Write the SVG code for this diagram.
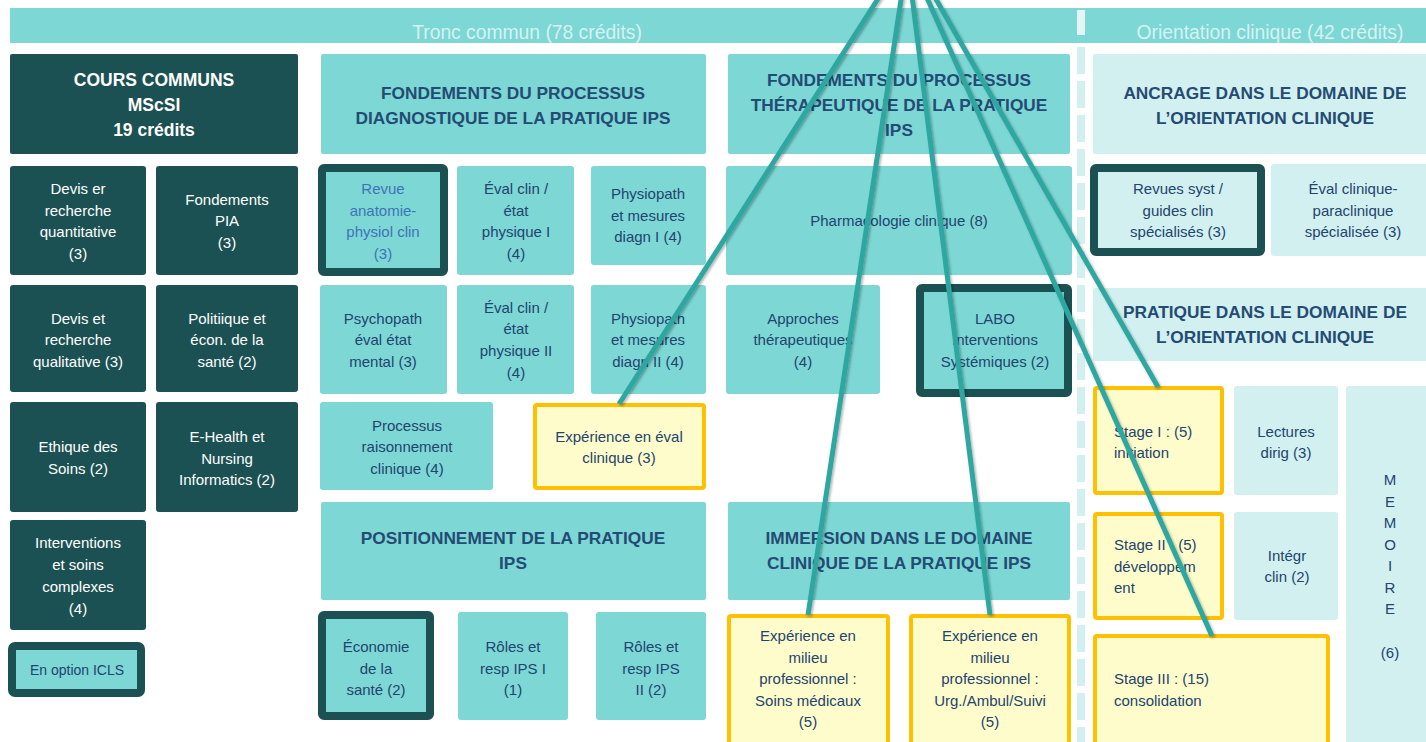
<svg xmlns="http://www.w3.org/2000/svg" width="1426" height="742" viewBox="0 0 1426 742">
<defs>
<style>
.dk{fill:#1b5153}
.tl{fill:#7dd7d5}
.lc{fill:#d3f0f0}
.yl{fill:#fffccb;stroke:#ffc000;stroke-width:4}
.bt{fill:#7dd7d5;stroke:#1b5153;stroke-width:8}
.bl{fill:#d3f0f0;stroke:#1b5153;stroke-width:8}
text{font-family:"Liberation Sans",Arial,sans-serif;font-size:15px;text-anchor:middle;fill:#22446e}
.w{fill:#ffffff}
.h{font-weight:bold;font-size:17.3px;fill:#234b73}
.hw{font-weight:bold;font-size:17.5px;fill:#ffffff}
.bar{font-size:19.3px;fill:#d6f2f1}
.bl2{fill:#3f73b8}
.l{text-anchor:start}
.con{stroke:#2ea7a1;stroke-width:5;fill:none;stroke-linecap:butt}
</style>
<filter id="sh" x="-20%" y="-20%" width="140%" height="140%"><feDropShadow dx="1.5" dy="1.5" stdDeviation="1" flood-color="#000" flood-opacity="0.3"/></filter>
</defs>
<rect width="1426" height="742" fill="#ffffff"/>

<g id="header">
<rect x="10" y="8" width="1416" height="35" class="tl"/>
<text x="527" y="39" class="bar">Tronc commun (78 crédits)</text>
<text x="1270" y="39" class="bar">Orientation clinique (42 crédits)</text>
</g>

<g id="separator">
<rect x="1077" y="10" width="8" height="25" fill="#e3f6f6"/>
<line x1="1081" y1="47" x2="1081" y2="742" stroke="#d3f0f0" stroke-width="8" stroke-dasharray="27 7"/>
</g>

<g id="cours-communs"><rect x="10" y="54" width="288" height="100" rx="2" class="dk"/>
<text class="hw" x="154" y="86">COURS COMMUNS</text><text class="hw" x="154" y="111">MScSI</text><text class="hw" x="154" y="136">19 crédits</text></g>
<g id="devis-quanti"><rect x="10" y="166" width="136" height="109" rx="3" class="dk"/>
<text class="w" x="78" y="194">Devis er</text><text class="w" x="78" y="216">recherche</text><text class="w" x="78" y="237">quantitative</text><text class="w" x="78" y="259">(3)</text></g>
<g id="fondements-pia"><rect x="156" y="166" width="142" height="109" rx="3" class="dk"/>
<text class="w" x="227" y="205">Fondements</text><text class="w" x="227" y="226">PIA</text><text class="w" x="227" y="248">(3)</text></g>
<g id="devis-quali"><rect x="10" y="285" width="136" height="107" rx="3" class="dk"/>
<text class="w" x="78" y="324">Devis et</text><text class="w" x="78" y="345">recherche</text><text class="w" x="78" y="367">qualitative (3)</text></g>
<g id="politique"><rect x="156" y="285" width="142" height="107" rx="3" class="dk"/>
<text class="w" x="227" y="324">Politiique et</text><text class="w" x="227" y="345">écon. de la</text><text class="w" x="227" y="367">santé (2)</text></g>
<g id="ethique"><rect x="10" y="402" width="136" height="110" rx="3" class="dk"/>
<text class="w" x="78" y="452">Ethique des</text><text class="w" x="78" y="474">Soins (2)</text></g>
<g id="ehealth"><rect x="156" y="402" width="142" height="110" rx="3" class="dk"/>
<text class="w" x="227" y="442">E-Health et</text><text class="w" x="227" y="464">Nursing</text><text class="w" x="227" y="485">Informatics (2)</text></g>
<g id="interventions"><rect x="10" y="520" width="136" height="110" rx="3" class="dk"/>
<text class="w" x="78" y="548">Interventions</text><text class="w" x="78" y="570">et soins</text><text class="w" x="78" y="592">complexes</text><text class="w" x="78" y="614">(4)</text></g>
<g id="option-icls"><rect x="12" y="646" width="129" height="47" rx="3" class="bt"/>
<text x="77" y="675" style="font-size:14px">En option ICLS</text></g>

<g id="fond-diag"><rect x="321" y="54" width="385" height="100" rx="2" class="tl"/>
<text class="h" x="513" y="99">FONDEMENTS DU PROCESSUS</text><text class="h" x="513" y="124">DIAGNOSTIQUE DE LA PRATIQUE IPS</text></g>
<g id="revue-anatomie"><rect x="322" y="168" width="122" height="104" rx="2" class="bt"/>
<text class="bl2" x="383" y="194">Revue</text><text class="bl2" x="383" y="216">anatomie-</text><text class="bl2" x="383" y="237">physiol clin</text><text class="bl2" x="383" y="259">(3)</text></g>
<g id="eval-clin-1"><rect x="457" y="166" width="117" height="109" rx="3" class="tl"/>
<text x="516" y="194">Éval clin /</text><text x="516" y="216">état</text><text x="516" y="237">physique I</text><text x="516" y="259">(4)</text></g>
<g id="physiopath-1"><rect x="591" y="166" width="115" height="99" rx="3" class="tl"/>
<text x="648" y="199">Physiopath</text><text x="648" y="221">et mesures</text><text x="648" y="242">diagn I (4)</text></g>
<g id="psychopath"><rect x="320" y="285" width="127" height="109" rx="3" class="tl"/>
<text x="383" y="324">Psychopath</text><text x="383" y="345">éval état</text><text x="383" y="367">mental (3)</text></g>
<g id="eval-clin-2"><rect x="457" y="285" width="117" height="109" rx="3" class="tl"/>
<text x="516" y="313">Éval clin /</text><text x="516" y="334">état</text><text x="516" y="356">physique II</text><text x="516" y="378">(4)</text></g>
<g id="physiopath-2"><rect x="591" y="285" width="115" height="109" rx="3" class="tl"/>
<text x="648" y="324">Physiopath</text><text x="648" y="345">et mesures</text><text x="648" y="367">diagn II (4)</text></g>
<g id="processus"><rect x="320" y="402" width="173" height="88" rx="3" class="tl"/>
<text x="407" y="431">Processus</text><text x="407" y="452">raisonnement</text><text x="407" y="474">clinique (4)</text></g>
<g id="exp-eval"><rect x="535" y="405" width="169" height="83" rx="2" class="yl"/>
<text x="619" y="442">Expérience en éval</text><text x="619" y="463">clinique (3)</text></g>
<g id="positionnement"><rect x="321" y="502" width="385" height="98" rx="2" class="tl"/>
<text class="h" x="513" y="544">POSITIONNEMENT DE LA PRATIQUE</text><text class="h" x="513" y="569">IPS</text></g>
<g id="economie"><rect x="322" y="615" width="108" height="101" rx="2" class="bt"/>
<text x="376" y="652">Économie</text><text x="376" y="674">de la</text><text x="376" y="695">santé (2)</text></g>
<g id="roles-1"><rect x="458" y="612" width="110" height="108" rx="3" class="tl"/>
<text x="513" y="652">Rôles et</text><text x="513" y="674">resp IPS I</text><text x="513" y="695">(1)</text></g>
<g id="roles-2"><rect x="596" y="612" width="110" height="108" rx="3" class="tl"/>
<text x="651" y="652">Rôles et</text><text x="651" y="674">resp IPS</text><text x="651" y="695">II (2)</text></g>

<g id="fond-thera"><rect x="728" y="54" width="342" height="100" rx="2" class="tl"/>
<text class="h" x="899" y="86">FONDEMENTS DU PROCESSUS</text><text class="h" x="899" y="111">THÉRAPEUTIQUE DE LA PRATIQUE</text><text class="h" x="899" y="136">IPS</text></g>
<g id="pharmacologie"><rect x="726" y="166" width="346" height="109" rx="3" class="tl"/>
<text x="899" y="226">Pharmacologie clinique  (8)</text></g>
<g id="approches"><rect x="726" y="285" width="154" height="109" rx="3" class="tl"/>
<text x="803" y="324">Approches</text><text x="803" y="345">thérapeutiques</text><text x="803" y="367">(4)</text></g>
<g id="labo"><rect x="920" y="288" width="148" height="105" rx="2" class="bt"/>
<text x="995" y="324">LABO</text><text x="995" y="345">Interventions</text><text x="995" y="367">Systémiques (2)</text></g>
<g id="immersion"><rect x="728" y="502" width="342" height="98" rx="2" class="tl"/>
<text class="h" x="899" y="544">IMMERSION DANS LE DOMAINE</text><text class="h" x="899" y="569">CLINIQUE DE LA PRATIQUE IPS</text></g>
<g id="exp-soins"><rect x="729" y="616" width="159" height="140" rx="2" class="yl"/>
<text x="808" y="641">Expérience en</text><text x="808" y="663">milieu</text><text x="808" y="684">professionnel :</text><text x="808" y="706">Soins médicaux</text><text x="808" y="727">(5)</text></g>
<g id="exp-urg"><rect x="911" y="616" width="158" height="140" rx="2" class="yl"/>
<text x="990" y="641">Expérience en</text><text x="990" y="663">milieu</text><text x="990" y="684">professionnel :</text><text x="990" y="706">Urg./Ambul/Suivi</text><text x="990" y="727">(5)</text></g>

<g id="ancrage"><rect x="1093" y="54" width="340" height="100" rx="2" class="lc"/>
<text class="h" x="1265" y="99">ANCRAGE DANS LE DOMAINE DE</text><text class="h" x="1265" y="124">L’ORIENTATION CLINIQUE</text></g>
<g id="revues-syst"><rect x="1094" y="168" width="167" height="84" rx="2" class="bl"/>
<text x="1178" y="194">Revues syst /</text><text x="1178" y="216">guides clin</text><text x="1178" y="237">spécialisés (3)</text></g>
<g id="eval-paraclinique"><rect x="1271" y="164" width="160" height="92" rx="3" class="lc"/>
<text x="1353" y="194">Éval clinique-</text><text x="1353" y="216">paraclinique</text><text x="1353" y="237">spécialisée (3)</text></g>
<g id="pratique"><rect x="1093" y="288" width="340" height="73" rx="2" class="lc"/>
<text class="h" x="1265" y="318">PRATIQUE DANS LE DOMAINE DE</text><text class="h" x="1265" y="343">L’ORIENTATION CLINIQUE</text></g>
<g id="stage-1"><rect x="1095" y="388" width="127" height="105" rx="2" class="yl"/>
<text class="l" x="1114" y="437">Stage I : (5)</text><text class="l" x="1114" y="458">initiation</text></g>
<g id="lectures"><rect x="1234" y="386" width="104" height="109" rx="3" class="lc"/>
<text x="1286" y="437">Lectures</text><text x="1286" y="458">dirig (3)</text></g>
<g id="stage-2"><rect x="1095" y="514" width="127" height="104" rx="2" class="yl"/>
<text class="l" x="1114" y="550">Stage II : (5)</text><text class="l" x="1114" y="572">développem</text><text class="l" x="1114" y="593">ent</text></g>
<g id="integr"><rect x="1234" y="512" width="104" height="108" rx="3" class="lc"/>
<text x="1287" y="561">Intégr</text><text x="1287" y="582">clin (2)</text></g>
<g id="stage-3"><rect x="1095" y="636" width="233" height="120" rx="2" class="yl"/>
<text class="l" x="1114" y="684">Stage III : (15)</text><text class="l" x="1114" y="706">consolidation</text></g>
<g id="memoire"><rect x="1346" y="386" width="90" height="370" rx="3" class="lc"/>
<text x="1390" y="485">M</text><text x="1390" y="507">E</text><text x="1390" y="528">M</text><text x="1390" y="550">O</text><text x="1390" y="571">I</text><text x="1390" y="593">R</text><text x="1390" y="614">E</text><text x="1390" y="658">(6)</text></g>

<g id="connectors" filter="url(#sh)">
<line class="con" x1="890" y1="-20" x2="619" y2="404"/>
<line class="con" x1="904" y1="-20" x2="808" y2="615"/>
<line class="con" x1="910" y1="-20" x2="990" y2="615"/>
<line class="con" x1="919" y1="-20" x2="1212" y2="636"/>
<line class="con" x1="925" y1="-20" x2="1158" y2="387"/>
</g>
</svg>
